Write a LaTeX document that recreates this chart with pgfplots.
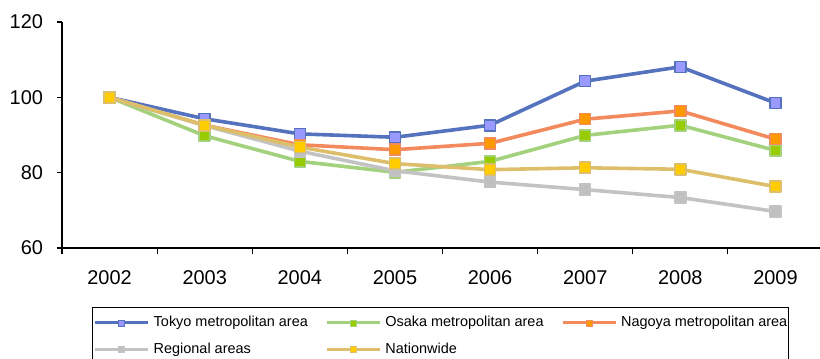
\documentclass[border=0pt]{standalone}
\usepackage{pgfplots}
\pgfplotsset{compat=1.18}
\usepackage{fontspec}
\setmainfont{Liberation Sans}

\definecolor{tokyoL}{HTML}{5472BE}
\definecolor{tokyoM}{HTML}{9999FF}
\definecolor{osakaL}{HTML}{A3D17D}
\definecolor{osakaM}{HTML}{99CC00}
\definecolor{nagoyaL}{HTML}{F28A5E}
\definecolor{nagoyaM}{HTML}{FF9900}
\definecolor{regionL}{HTML}{C3C3C3}
\definecolor{regionM}{HTML}{C0C0C0}
\definecolor{nationL}{HTML}{DDBF6B}
\definecolor{nationM}{HTML}{FFCC00}

\begin{document}
\begin{tikzpicture}
\useasboundingbox (0bp,0bp) rectangle (820bp,-359bp);
\begin{axis}[
  at={(62bp,-248bp)}, anchor=south west,
  scale only axis, width=761bp, height=226bp,
  xmin=-0.5, xmax=7.5, ymin=60, ymax=120,
  axis x line*=bottom, axis y line*=left,
  axis line style={-, line width=1.5bp, black},
  tick align=outside, major tick length=5.5bp,
  every tick/.style={black, line width=1.2bp},
  xtick={-0.5,0.5,...,7.5}, xticklabels={},
  extra x ticks={0,1,2,3,4,5,6,7},
  extra x tick labels={2002,2003,2004,2005,2006,2007,2008,2009},
  extra x tick style={major tick length=0pt},
  ytick={60,80,100,120},
  yticklabels={60,80,100,120},
  x tick label style={font=\fontsize{20}{24}\selectfont, anchor=north, yshift=-19bp},
  y tick label style={font=\fontsize{20}{24}\selectfont, anchor=east, xshift=-10bp},
  clip=false,
  every axis plot/.append style={line width=3.6bp, line join=round, mark=square*, mark size=5.5bp},
  legend columns=3,
  legend cell align=left,
  legend style={
    at={(0.0394,-0.261)}, anchor=north west,
    draw=black, line width=1.5bp,
    inner xsep=1bp, inner ysep=8bp,
    font=\fontsize{14.5}{17}\selectfont,
    column sep=4bp, row sep=12bp,
    /tikz/every even column/.append style={column sep=17.5bp},
    nodes={inner sep=0pt, text height=11bp, text depth=3.5bp},
  },
  legend image code/.code={
    \draw[mark repeat=2, mark phase=2] plot coordinates {(0bp,0bp) (26.5bp,0bp) (53bp,0bp)};
  },
  legend image post style={line width=3bp, mark size=3bp, every mark/.append style={line width=0.8bp}},
]
\addplot[color=tokyoL, mark options={fill=tokyoM, draw=tokyoL, line width=1.6bp}]
  coordinates {(0,100) (1,94.3) (2,90.3) (3,89.4) (4,92.6) (5,104.3) (6,108.1) (7,98.5)};
\addlegendentry{Tokyo metropolitan area}
\addplot[color=osakaL, mark options={fill=osakaM, draw=osakaL, line width=1.6bp}]
  coordinates {(0,100) (1,89.8) (2,83.0) (3,80.1) (4,83.0) (5,89.9) (6,92.6) (7,85.9)};
\addlegendentry{Osaka metropolitan area}
\addplot[color=nagoyaL, mark options={fill=nagoyaM, draw=nagoyaL, line width=1.6bp}]
  coordinates {(0,100) (1,92.6) (2,87.4) (3,86.1) (4,87.8) (5,94.2) (6,96.4) (7,88.9)};
\addlegendentry{Nagoya metropolitan area}
\addplot[color=regionL, mark options={fill=regionM, draw=regionL, line width=1.6bp}]
  coordinates {(0,100) (1,92.5) (2,85.7) (3,80.5) (4,77.5) (5,75.5) (6,73.4) (7,69.7)};
\addlegendentry{Regional areas}
\addplot[color=nationL, mark options={fill=nationM, draw=nationL, line width=1.6bp}]
  coordinates {(0,100) (1,92.6) (2,86.8) (3,82.4) (4,80.8) (5,81.3) (6,80.9) (7,76.3)};
\addlegendentry{Nationwide}
\end{axis}
\end{tikzpicture}
\end{document}
